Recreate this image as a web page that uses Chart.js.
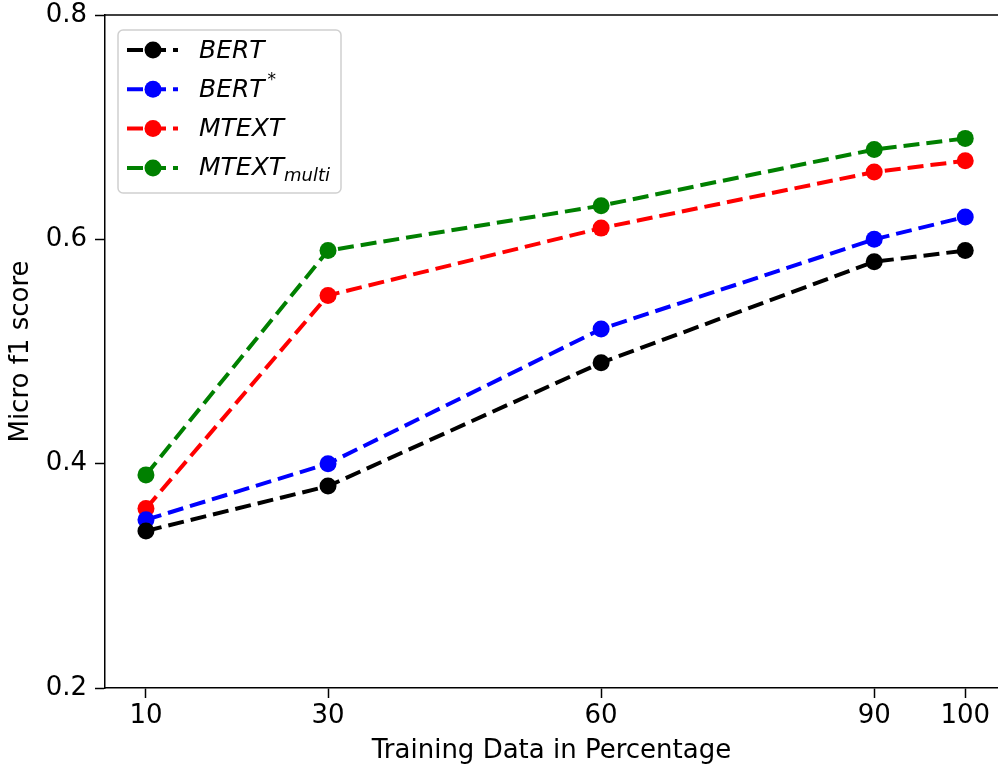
<!DOCTYPE html>
<html>
<head>
<meta charset="utf-8">
<script src="https://cdn.jsdelivr.net/npm/chart.js@4"></script>
<style>
html, body { margin: 0; padding: 0; background: #fff; overflow: hidden; }
#chart { display: block; }
</style>
</head>
<body>
<canvas id="chart" width="998" height="771"></canvas>
<script>
var trainPct = [10, 30, 60, 90, 100];
var bert = [0.34, 0.38, 0.49, 0.58, 0.59];
var bertStar = [0.35, 0.40, 0.52, 0.60, 0.62];
var mtext = [0.36, 0.55, 0.61, 0.66, 0.67];
var mtextMulti = [0.39, 0.59, 0.63, 0.68, 0.69];
var yTicks = [0.2, 0.4, 0.6, 0.8];

var seriesNames = ['BERT', 'BERT', 'MTEXT', 'MTEXT'];
var seriesSup = ['', '*', '', ''];
var seriesSub = ['', '', '', 'multi'];
var seriesColors = ['#000000', '#0000ff', '#ff0000', '#008000'];

var FONT = 'DejaVu Sans, sans-serif';
var DASH = [16, 7];

function points(vals) {
    return vals.map(function (v, i) { return { x: trainPct[i], y: v }; });
}

function makeSet(vals, i) {
    return {
        label: seriesNames[i] + seriesSup[i] + seriesSub[i],
        data: points(vals),
        borderColor: seriesColors[i],
        backgroundColor: seriesColors[i],
        pointBackgroundColor: seriesColors[i],
        pointBorderWidth: 0,
        pointRadius: 8.5,
        borderWidth: 4,
        borderDash: DASH,
        tension: 0,
        fill: false
    };
}

var frameAndLegend = {
    id: 'frameAndLegend',
    afterDraw: function (chart) {
        var ctx = chart.ctx;
        var a = chart.chartArea;
        ctx.save();
        // top spine only; the right one is cut off in the original
        ctx.strokeStyle = '#000';
        ctx.lineWidth = 1.5;
        ctx.beginPath();
        ctx.moveTo(a.left, a.top);
        ctx.lineTo(a.right, a.top);
        ctx.stroke();

        var bx = 118, by = 30, bw = 223, bh = 163, r = 5;
        ctx.fillStyle = 'rgba(255,255,255,0.8)';
        ctx.strokeStyle = '#d0d0d0';
        ctx.lineWidth = 1.5;
        ctx.beginPath();
        ctx.moveTo(bx + r, by);
        ctx.arcTo(bx + bw, by, bx + bw, by + bh, r);
        ctx.arcTo(bx + bw, by + bh, bx, by + bh, r);
        ctx.arcTo(bx, by + bh, bx, by, r);
        ctx.arcTo(bx, by, bx + bw, by, r);
        ctx.closePath();
        ctx.fill();
        ctx.stroke();

        chart.data.datasets.forEach(function (ds, i) {
            var y = 50 + i * 39.3;
            ctx.strokeStyle = seriesColors[i];
            ctx.lineWidth = 4;
            ctx.setLineDash(DASH);
            ctx.beginPath();
            ctx.moveTo(127, y);
            ctx.lineTo(178, y);
            ctx.stroke();
            ctx.setLineDash([]);
            ctx.fillStyle = seriesColors[i];
            ctx.beginPath();
            ctx.arc(153, y, 8.5, 0, Math.PI * 2);
            ctx.fill();

            ctx.fillStyle = '#000';
            ctx.textBaseline = 'middle';
            ctx.textAlign = 'left';
            ctx.font = 'italic 25px ' + FONT;
            ctx.fillText(seriesNames[i], 199, y + 1);
            var w = ctx.measureText(seriesNames[i]).width;
            if (seriesSup[i]) {
                ctx.font = 'italic 17px ' + FONT;
                ctx.fillText(seriesSup[i], 199 + w + 3, y - 9);
            }
            if (seriesSub[i]) {
                ctx.font = 'italic 18px ' + FONT;
                ctx.fillText(seriesSub[i], 199 + w, y + 8);
            }
        });
        ctx.restore();
    }
};

// keep the layout from growing the chart area for label overhang
function noPad(s) {
    s.paddingTop = 0;
    s.paddingBottom = 0;
    s.paddingLeft = 0;
    s.paddingRight = 0;
}

new Chart(document.getElementById('chart'), {
    type: 'line',
    data: {
        datasets: [
            makeSet(bert, 0),
            makeSet(bertStar, 1),
            makeSet(mtext, 2),
            makeSet(mtextMulti, 3)
        ]
    },
    options: {
        responsive: false,
        animation: false,
        devicePixelRatio: 1,
        layout: { autoPadding: false, padding: { top: 15, right: 0, left: 0, bottom: 0 } },
        plugins: {
            legend: { display: false },
            tooltip: { enabled: false }
        },
        scales: {
            x: {
                type: 'linear',
                min: 5.5,
                max: 103.6,   // original figure is cropped just past 100
                afterBuildTicks: function (s) {
                    s.ticks = trainPct.map(function (v) { return { value: v }; });
                },
                afterFit: function (s) { s.height = 83; noPad(s); },
                ticks: {
                    font: { family: FONT, size: 26 },
                    color: '#000',
                    padding: 3,
                    maxRotation: 0,
                    autoSkip: false
                },
                grid: {
                    drawOnChartArea: false,
                    drawTicks: true,
                    tickLength: 10,
                    tickColor: '#000',
                    tickWidth: 1.5
                },
                border: { color: '#000', width: 1.5 },
                title: {
                    display: true,
                    text: 'Training Data in Percentage',
                    font: { family: FONT, size: 26 },
                    color: '#000',
                    padding: { top: 0, bottom: 4 }
                }
            },
            y: {
                min: 0.2,
                max: 0.8,
                afterBuildTicks: function (s) {
                    s.ticks = yTicks.map(function (v) { return { value: v }; });
                },
                afterFit: function (s) { s.width = 105; noPad(s); },
                ticks: {
                    font: { family: FONT, size: 26 },
                    color: '#000',
                    padding: 8,
                    callback: function (v) { return v.toFixed(1); }
                },
                grid: {
                    drawOnChartArea: false,
                    drawTicks: true,
                    tickLength: 10,
                    tickColor: '#000',
                    tickWidth: 1.5
                },
                border: { color: '#000', width: 1.5 },
                title: {
                    display: true,
                    text: 'Micro f1 score',
                    font: { family: FONT, size: 26 },
                    color: '#000',
                    padding: { top: 6, bottom: 0 }
                }
            }
        }
    },
    plugins: [frameAndLegend]
});
</script>
</body>
</html>
